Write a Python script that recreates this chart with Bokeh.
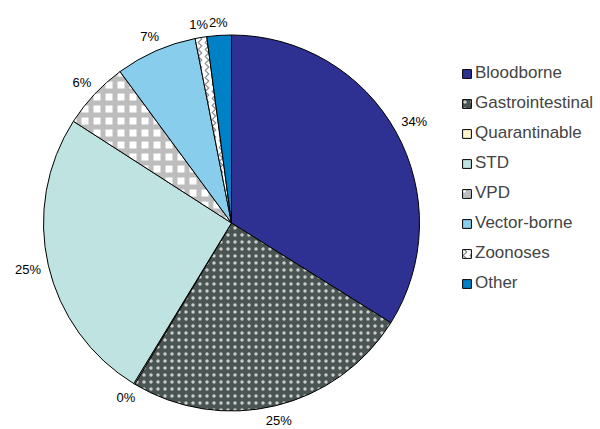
import math
from bokeh.plotting import figure
from bokeh.models import ColumnDataSource, Range1d, Legend, LegendItem
from bokeh.core.properties import value
from bokeh.embed import file_html
from bokeh.resources import INLINE

# ---- data ----
categories = ["Bloodborne", "Gastrointestinal", "Quarantinable", "STD",
              "VPD", "Vector-borne", "Zoonoses", "Other"]
shares = [33.9, 24.7, 0.1, 25.4, 5.8, 7.0, 1.0, 2.1]
labels = [f"{round(v)}%" for v in shares]

# ---- styles ----
colors = ["#2E3192", "#4A5452", "#FFF6CC", "#BFE3E0",
          "#FFFFFF", "#88CEEC", "#FFFFFF", "#0081C6"]
hatches = [" ", ".", " ", " ", "+", " ", ">", " "]
hatch_colors = ["#2E3192", "#C8CCCA", "#FFF6CC", "#BFE3E0",
                "#BDBDBD", "#88CEEC", "#8C8C8C", "#0081C6"]
hatch_scales = [8, 7, 8, 8, 12, 8, 7, 8]
hatch_weights = [1, 1.2, 1, 1, 5, 1, 1.2, 1]

W, H = 600, 429
cx, cy, R = 231, 206.5, 188
FONT = "Liberation Sans"

starts, ends, lx, ly = [], [], [], []
cum = 0.0
for v, lab in zip(shares, labels):
    a0 = cum * 3.6
    a1 = (cum + v) * 3.6
    cum += v
    starts.append(math.pi / 2 - math.radians(a0))
    ends.append(math.pi / 2 - math.radians(a1))
    mid = math.radians((a0 + a1) / 2)
    dx, dy = math.sin(mid), math.cos(mid)
    hw = (0.556 * (len(lab) - 1) + 0.889) * 13 / 2
    hh = 5
    d = R + 7 + hw * abs(dx) + hh * abs(dy)
    lx.append(cx + d * dx)
    ly.append(cy + d * dy)

src = ColumnDataSource(dict(cat=categories, start=starts, end=ends,
                            color=colors, hatch=hatches, hcol=hatch_colors,
                            hscale=hatch_scales, hweight=hatch_weights))
lsrc = ColumnDataSource(dict(x=lx, y=ly, t=labels))

p = figure(width=W, height=H, x_range=Range1d(0, W), y_range=Range1d(0, H),
           output_backend="svg", toolbar_location=None, min_border=0)
p.axis.visible = False
p.grid.visible = False
p.outline_line_color = None

r = p.wedge(x=cx, y=cy, radius=R, start_angle="start", end_angle="end",
            direction="clock", fill_color="color", line_color="#000000",
            line_width=1, hatch_pattern="hatch", hatch_color="hcol",
            hatch_scale="hscale", hatch_weight="hweight", source=src)

p.text(x="x", y="y", text="t", source=lsrc, text_align="center",
       text_baseline="middle", text_font=value(FONT),
       text_font_size="13px", text_color="#000000")

items = [LegendItem(label=c, renderers=[r], index=i) for i, c in enumerate(categories)]
legend = Legend(items=items, location=(461, 136), padding=0, margin=0,
                spacing=10, label_height=20, glyph_height=11, glyph_width=11,
                label_standoff=3, label_text_font=FONT,
                label_text_font_size="17px", border_line_alpha=0,
                background_fill_alpha=0)
p.add_layout(legend)

open("out.html", "w").write(file_html(p, INLINE))
